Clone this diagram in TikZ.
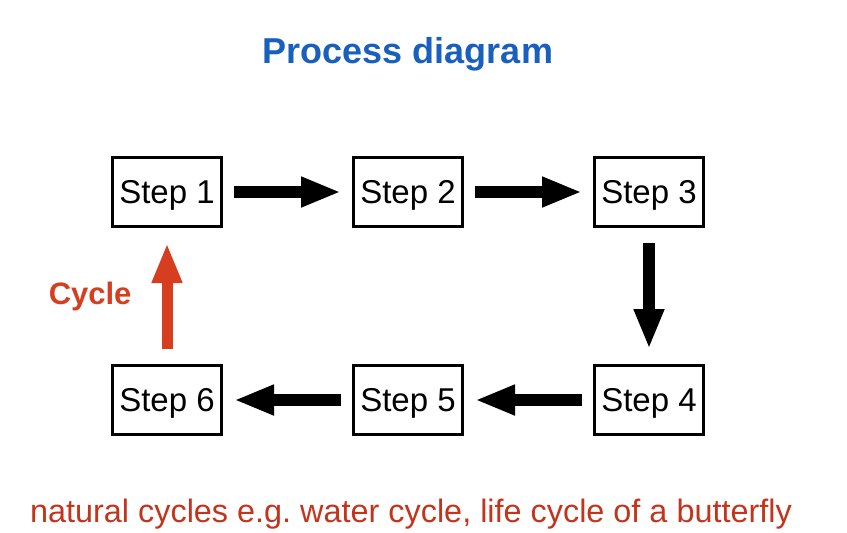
\documentclass[tikz,border=0pt]{standalone}
\usepackage{fontspec}
\setmainfont{Liberation Sans}
\usetikzlibrary{arrows.meta,positioning}
\definecolor{titleblue}{RGB}{25,95,190}
\definecolor{cyclered}{RGB}{215,62,32}
\definecolor{notered}{RGB}{195,52,28}
\tikzset{
  stepbox/.style={rectangle, draw=black, line width=1.5pt, align=center, minimum width=54.5pt, minimum height=34.5pt, inner sep=0pt, text depth=0pt, font=\fontsize{16.5}{19}\selectfont},
  steparrow/.style={-{Triangle[length=20pt,width=14pt]}, line width=6pt, shorten <=5.5pt, shorten >=5.5pt},
  vertarrow/.style={steparrow, shorten <=7.5pt, shorten >=7.5pt},
  cyclearrow/.style={vertarrow, draw=cyclered, line width=5.5pt},
  cyclelabel/.style={text=cyclered, inner sep=0pt, font=\bfseries\fontsize{15.5}{18}\selectfont},
  titletext/.style={text=titleblue, inner sep=0pt, anchor=base, font=\bfseries\fontsize{18}{21}\selectfont},
  notetext/.style={text=notered, inner sep=0pt, anchor=base, font=\fontsize{16.2}{19}\selectfont}
}
\begin{document}
\begin{tikzpicture}[x=0.5pt, y=-0.5pt, node distance=68pt and 64.5pt]
\useasboundingbox (0,0) rectangle (847,532);
\node[titletext] (title) at (408,63) {Process diagram};
\node[stepbox] (s1) at (167,192) {Step 1};
\node[stepbox, right=of s1] (s2) {Step 2};
\node[stepbox, right=of s2] (s3) {Step 3};
\node[stepbox, below=of s3] (s4) {Step 4};
\node[stepbox, left=of s4] (s5) {Step 5};
\node[stepbox, left=of s5] (s6) {Step 6};
\node[notetext] (note) at (411,522) {natural cycles e.g.\ water cycle, life cycle of a butterfly};
\draw[steparrow] (s1) -- (s2);
\draw[steparrow] (s2) -- (s3);
\draw[vertarrow] (s3) -- (s4);
\draw[steparrow] (s4) -- (s5);
\draw[steparrow] (s5) -- (s6);
\draw[cyclearrow] (s6) -- node[cyclelabel, left=15pt] {Cycle} (s1);
\end{tikzpicture}
\end{document}
